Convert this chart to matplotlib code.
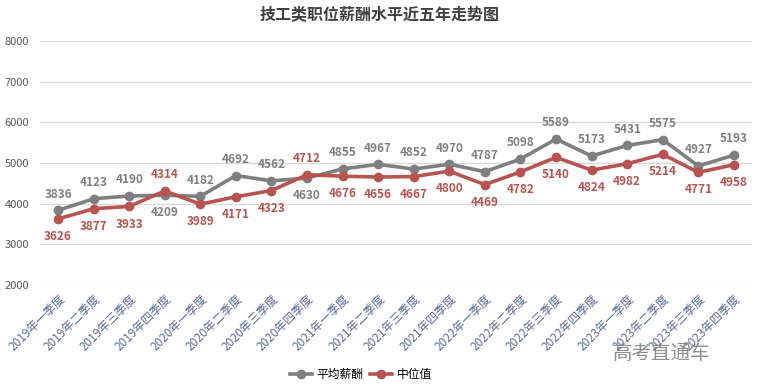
import matplotlib.pyplot as plt

plt.rcParams['font.family'] = ['Noto Sans CJK SC', 'DejaVu Sans']

quarters = ['2019年一季度', '2019年二季度', '2019年三季度', '2019年四季度',
            '2020年一季度', '2020年二季度', '2020年三季度', '2020年四季度',
            '2021年一季度', '2021年二季度', '2021年三季度', '2021年四季度',
            '2022年一季度', '2022年二季度', '2022年三季度', '2022年四季度',
            '2023年一季度', '2023年二季度', '2023年三季度', '2023年四季度']
avg_pay = [3836, 4123, 4190, 4209, 4182, 4692, 4562, 4630, 4855, 4967,
           4852, 4970, 4787, 5098, 5589, 5173, 5431, 5575, 4927, 5193]
median_pay = [3626, 3877, 3933, 4314, 3989, 4171, 4323, 4712, 4676, 4656,
              4667, 4800, 4469, 4782, 5140, 4824, 4982, 5214, 4771, 4958]

gray = '#7f7f7f'
red = '#b85450'

fig = plt.figure(figsize=(7.6, 3.9), dpi=100)
ax = fig.add_axes([0.053, 0.269, 0.936, 0.626])

x = range(len(quarters))
ax.plot(x, avg_pay, color=gray, lw=2.6, marker='o', ms=6, label='平均薪酬', zorder=3)
ax.plot(x, median_pay, color=red, lw=2.6, marker='o', ms=6, label='中位值', zorder=3)

for i in x:
    a, m = avg_pay[i], median_pay[i]
    a_up = a >= m
    ax.annotate(str(a), (i, a), xytext=(0, 7 if a_up else -8), textcoords='offset points',
                ha='center', va='bottom' if a_up else 'top', fontsize=8.5,
                fontweight='bold', color=gray)
    ax.annotate(str(m), (i, m), xytext=(0, 7 if not a_up else -8), textcoords='offset points',
                ha='center', va='bottom' if not a_up else 'top', fontsize=8.5,
                fontweight='bold', color=red)

ax.set_xlim(-0.5, len(quarters) - 0.5)
ax.set_ylim(2000, 8000)
ax.set_yticks(range(2000, 8001, 1000))
ax.set_xticks(list(x))
ax.set_xticklabels(quarters, rotation=45, ha='right', rotation_mode='anchor',
                   fontsize=8.5, color='#5a6a9a')
ax.tick_params(axis='y', labelsize=8, colors='#595959', length=0, pad=8)
ax.tick_params(axis='x', length=0, pad=5)
ax.grid(axis='y', color='#d9d9d9', lw=1)
ax.set_axisbelow(True)
for s in ax.spines.values():
    s.set_visible(False)

fig.suptitle('技工类职位薪酬水平近五年走势图', y=0.985, fontsize=11.5,
             fontweight='bold', color='#404040')
fig.legend(loc='lower center', bbox_to_anchor=(0.475, -0.005), ncol=2, frameon=False,
           fontsize=8.5, handlelength=1.8, handletextpad=0.4, columnspacing=0.6)
fig.text(0.935, 0.08, '高考直通车', fontsize=14, color='#808080', ha='right', alpha=0.9)

fig.savefig('out.png', dpi=100)
